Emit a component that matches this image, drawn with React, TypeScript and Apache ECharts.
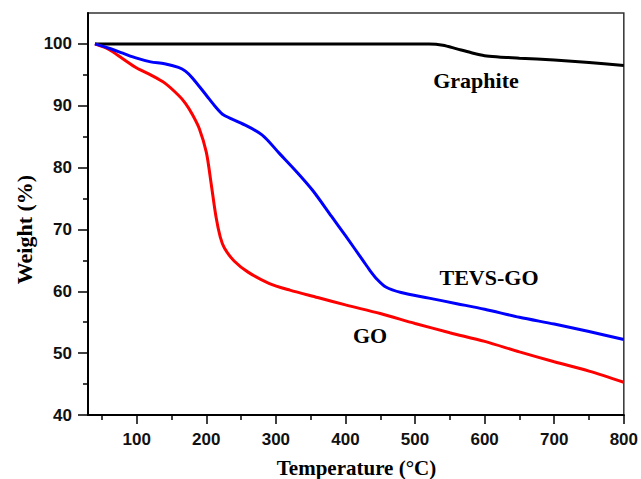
import React, { useEffect, useRef } from "react";
import * as echarts from "echarts";

const graphiteData: [number, number][] = [
  [40, 100], [100, 100], [200, 100], [300, 100], [400, 100], [500, 100], [520, 100],
  [540, 99.8], [560, 99.2], [580, 98.6], [600, 98.1], [620, 97.9], [650, 97.7],
  [700, 97.4], [750, 97.0], [800, 96.5],
];

const goData: [number, number][] = [
  [40, 100], [60, 99.1], [80, 97.6], [100, 96.1], [120, 95.0], [140, 93.7],
  [160, 91.7], [170, 90.4], [180, 88.6], [190, 86.3], [200, 82.5], [207, 77.4],
  [214, 72.0], [220, 68.8], [226, 67.0], [240, 64.9], [260, 63.1], [290, 61.3],
  [320, 60.2], [360, 59.0], [400, 57.8], [450, 56.4], [500, 54.8], [550, 53.3],
  [600, 51.9], [650, 50.2], [700, 48.6], [750, 47.1], [800, 45.3],
];

const tevsData: [number, number][] = [
  [40, 100], [60, 99.3], [80, 98.5], [100, 97.7], [120, 97.1], [140, 96.8],
  [160, 96.2], [170, 95.6], [180, 94.5], [200, 91.7], [215, 89.6], [225, 88.5],
  [250, 87.2], [280, 85.3], [305, 82.3], [330, 79.3], [353, 76.3], [380, 72.1],
  [400, 69.0], [425, 65.0], [435, 63.4], [445, 62.0], [458, 60.7], [480, 59.8],
  [520, 58.9], [560, 58.0], [600, 57.1], [650, 55.8], [700, 54.7], [750, 53.5],
  [800, 52.2],
];

const xMajorTicks = [100, 200, 300, 400, 500, 600, 700, 800];
const xMinorTicks = [50, 150, 250, 350, 450, 550, 650, 750];
const yMajorTicks = [40, 50, 60, 70, 80, 90, 100];
const yMinorTicks = [45, 55, 65, 75, 85, 95];

const seriesNames = ["Graphite", "GO", "TEVS-GO"];

export default function App() {
  const ref = useRef<HTMLDivElement>(null);
  useEffect(() => {
    if (!ref.current) return;
    const chart = echarts.init(ref.current, undefined, { renderer: "svg" });
    const labelFont = {
      fontFamily: "'Liberation Sans', Arial, sans-serif",
      fontWeight: "bold" as const,
      fontSize: 17,
      color: "#111",
    };
    const serif = "'Liberation Serif', 'Times New Roman', serif";
    const axisLineStyle = { color: "#000", width: 2 };
    chart.setOption({
      animation: false,
      grid: {
        left: 88, right: 16, top: 13, bottom: 64,
        show: true, borderColor: "#333", borderWidth: 1.5, backgroundColor: "transparent",
      },
      xAxis: [
        {
          type: "value", min: 30, max: 800, position: "bottom",
          axisLine: { show: true, lineStyle: axisLineStyle },
          axisTick: { show: true, customValues: xMajorTicks, length: 9, lineStyle: { color: "#000", width: 1.5 } },
          axisLabel: { customValues: xMajorTicks, margin: 16, ...labelFont },
          splitLine: { show: false },
        },
        {
          type: "value", min: 30, max: 800, position: "bottom",
          axisLine: { show: false },
          axisTick: { show: true, customValues: xMinorTicks, length: 5, lineStyle: { color: "#000", width: 1.5 } },
          axisLabel: { show: false },
          splitLine: { show: false },
        },
      ],
      yAxis: [
        {
          type: "value", min: 40, max: 105, position: "left",
          axisLine: { show: true, lineStyle: axisLineStyle },
          axisTick: { show: true, customValues: yMajorTicks, length: 10, lineStyle: { color: "#000", width: 1.5 } },
          axisLabel: { customValues: yMajorTicks, margin: 16, ...labelFont },
          splitLine: { show: false },
        },
        {
          type: "value", min: 40, max: 105, position: "left",
          axisLine: { show: false },
          axisTick: { show: true, customValues: yMinorTicks, length: 5, lineStyle: { color: "#000", width: 1.5 } },
          axisLabel: { show: false },
          splitLine: { show: false },
        },
      ],
      series: [
        {
          name: seriesNames[0], type: "line", data: graphiteData, smooth: 0.3, showSymbol: false,
          lineStyle: { color: "#000", width: 3 },
        },
        {
          name: seriesNames[1], type: "line", data: goData, smooth: 0.3, showSymbol: false,
          lineStyle: { color: "#ff0000", width: 3 },
        },
        {
          name: seriesNames[2], type: "line", data: tevsData, smooth: 0.3, showSymbol: false,
          lineStyle: { color: "#0000ff", width: 3 },
        },
      ],
      graphic: [
        {
          type: "text", x: 476, y: 80,
          style: { text: seriesNames[0], fontFamily: serif, fontWeight: "bold", fontSize: 22, fill: "#000", textAlign: "center", textVerticalAlign: "middle" },
        },
        {
          type: "text", x: 489, y: 277,
          style: { text: seriesNames[2], fontFamily: serif, fontWeight: "bold", fontSize: 22, fill: "#000", textAlign: "center", textVerticalAlign: "middle" },
        },
        {
          type: "text", x: 370, y: 335,
          style: { text: seriesNames[1], fontFamily: serif, fontWeight: "bold", fontSize: 22, fill: "#000", textAlign: "center", textVerticalAlign: "middle" },
        },
        {
          type: "text", x: 356.5, y: 468,
          style: { text: "Temperature (°C)", fontFamily: serif, fontWeight: "bold", fontSize: 21, fill: "#000", textAlign: "center", textVerticalAlign: "middle" },
        },
        {
          type: "text", x: 24, y: 229.5, rotation: Math.PI / 2,
          style: { text: "Weight (%)", fontFamily: serif, fontWeight: "bold", fontSize: 22, fill: "#000", textAlign: "center", textVerticalAlign: "middle" },
        },
      ],
    });
    return () => chart.dispose();
  }, []);
  return (
    <div
      ref={ref}
      style={{ position: "absolute", left: 0, top: 0, width: 641, height: 479, background: "#fff" }}
    />
  );
}
